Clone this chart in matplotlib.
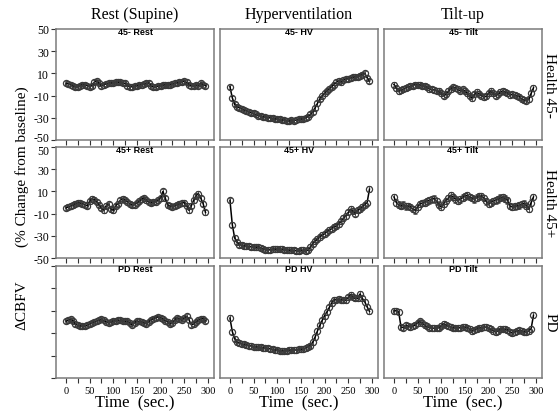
import numpy as np
import matplotlib
matplotlib.use("Agg")
import matplotlib.pyplot as plt
from matplotlib.ticker import MultipleLocator
from matplotlib.transforms import ScaledTranslation

# ---------------- data ----------------
time_sec = np.arange(0, 300, 5)

col_titles = ["Rest (Supine)", "Hyperventilation", "Tilt-up"]
row_labels = ["Health 45-", "Health 45+", "PD"]
panel_titles = [["45- Rest", "45- HV", "45- Tilt"],
                ["45+ Rest", "45+ HV", "45+ Tilt"],
                ["PD Rest", "PD HV", "PD Tilt"]]

h45m_rest = [1, 0.5, 0, -1, -2.5, -2, -1, 0, -0.5, -1, -2, -1, 2, 3.5, 1, -1.5, 0, 0.5, 1, 1.5,
             1.5, 2, 2, 2, 1.5, 1, -1, -2, -2, -1.5, -1, -0.5, 0, 0.5, 1, 1.5, -1, -2.5, -2, -1.5,
             -1, -0.5, 0, -0.5, 0, 0.5, 1, 1.5, 2, 2.5, 3, 2, 0, -1, -1.5, -0.5, -1, 1.5, -0.5, -1]
h45m_hv = [-2, -12, -18, -20, -21, -22, -23, -24, -25, -25.5, -26, -27, -28, -28.5, -29, -29.5, -30, -30, -30.5, -31,
           -31, -31.5, -32, -32, -32.5, -33, -32, -32.5, -32, -31.5, -31, -31, -30, -29, -27, -25, -21, -17, -13, -10,
           -8, -6, -4, -2, 0, 2, 3.5, 2, 4, 5, 5, 6, 6.5, 7, 7, 8, 9, 10, 6, 3]
h45m_tilt = [0, -3, -6, -5, -4, -3, -2, -1.5, -1, 0, -0.5, 0, -1, -1.5, -2.5, -4, -4.5, -5, -5.5, -6,
             -8, -10, -9, -6, -4, -2.5, -3, -4.5, -5.5, -4.5, -6, -8, -10, -12, -9, -7, -8.5, -10, -11.5, -10.5,
             -8, -6, -8, -10, -9, -7, -6, -6.5, -8, -9.5, -9, -9.5, -10, -11, -13, -14, -14.5, -13.5, -8, -3]

h45p_rest = [-5, -4, -3, -2.5, -1, 0, -0.5, -1, -2, -3, 1, 3.5, 2.5, 0.5, -2, -5, -7, -3, -1.5, -6,
             -7, -3, -1, 2, 3.5, 2, 0.5, -1, -2.5, -2, -0.5, 1, 3, 4, 2, 0.5, 0, 0.5, 0.5, 2,
             4, 10, 4, -2.5, -3, -4, -3, -2, -1, -0.5, 0, -3, -7, -3, 2, 6, 8, 4, -1, -9]
h45p_hv = [2, -20, -32, -36, -38, -38.5, -39, -39.5, -39.5, -40, -40, -40.5, -40, -41, -41.5, -42.5, -43, -42.5, -42, -42,
           -42, -42, -42, -42.5, -42.5, -43, -43, -43, -43.5, -43.5, -43, -43, -43.5, -43, -40, -37, -35, -33, -31, -29.5,
           -28, -26.5, -25, -23.5, -22, -21, -19.5, -17, -14, -12, -9, -6, -8, -10, -7, -6, -4, -2, 0, 12]
h45p_tilt = [5, 0, -2, -3, -2, -3.5, -3, -4, -6, -7, -4, -1.5, -0.5, 0, 1, 2, 3, 3.5, 1, -2,
             -4, -1, 1.5, 4, 6.5, 5, 3, 1.5, 3, 4.5, 5.5, 6.5, 5, 4, 3, 4.5, 5.5, 6, 4, 1,
             -1, 0, 1.5, 2, 3, 4.5, 5, 3.5, 2, -3, -4, -3.5, -3, -2.5, -1.5, -1, -3, -6, 0, 5]

pd_rest = [0.5, 1.5, 2.5, 1, -2, -3, -3.5, -3.5, -4, -3, -2, -0.5, 0, 0.5, 1.5, 2.5, 1.5, 0, -1, 0,
           1, 1, 1.5, 1.5, 1, 0.5, 0.5, -1, -2.5, -0.5, 1, 0.5, 0, -0.5, -1.5, 0, 2, 3, 4, 4.5,
           4, 2.5, 1, 0, -1.5, -0.5, 2, 3.5, 2.5, 1.5, 3.5, 5, 2, -2.5, -2, 0, 1.5, 2.5, 3, 0.5]
pd_hv = [3.5, -8.5, -15, -18, -19, -19.5, -20, -20.5, -21, -21.5, -22, -22, -22.5, -22.5, -23, -23, -23.5, -24, -24.5, -25,
         -25, -25.5, -25.5, -25.5, -25.5, -25, -25, -25, -25, -24.5, -24.5, -24, -23.5, -22, -21, -18, -13.5, -8, -3, 1.5,
         5.5, 9, 13, 17, 19.5, 20, 20.5, 20, 19.5, 19.5, 22, 24.5, 22, 21, 21, 25, 21, 18, 13.5, 9.5]
pd_tilt = [10, 10, 9, -4.5, -5, -3, -3.5, -4.5, -4, -2.5, -1, 0.5, -1, -3, -4, -5, -5.5, -5.5, -5.5, -5,
           -3.5, -1.5, -2.5, -4, -4.5, -5, -5, -5.5, -5, -4.5, -4.5, -5, -6.5, -8, -7.5, -6, -5, -5, -4.5, -4.5,
           -5.5, -6.5, -8, -9, -8, -6.5, -6, -6.5, -7, -8.5, -10, -9, -8, -7.5, -8, -8.5, -9, -8, -6, 6]

series = [[h45m_rest, h45m_hv, h45m_tilt],
          [h45p_rest, h45p_hv, h45p_tilt],
          [pd_rest, pd_hv, pd_tilt]]
error_sd = [[1.8, 2.0, 2.5],
            [2.2, 2.5, 3.0],
            [1.8, 2.5, 2.5]]

y_ticks = [50, 30, 10, -10, -30, -50]
x_ticks = [0, 50, 100, 150, 200, 250, 300]

# ---------------- figure ----------------
W, H = 558, 414
fig = plt.figure(figsize=(W / 100, H / 100), dpi=100)
serif = ["Liberation Serif", "DejaVu Serif"]
sans = ["Liberation Sans", "DejaVu Sans"]

col_px = [(56, 214), (220, 378), (384, 542)]
row_px = [(30, 141), (148, 259), (267, 379)]
spine_col = "#7a7a7a"

for r in range(3):
    for c in range(3):
        x0, x1 = col_px[c]
        y0, y1 = row_px[r]
        ax = fig.add_axes([x0 / W, 1 - y1 / H, (x1 - x0) / W, (y1 - y0) / H])
        vals = np.array(series[r][c], dtype=float)
        ax.errorbar(time_sec, vals, yerr=error_sd[r][c], fmt="none",
                    ecolor="#555555", elinewidth=0.7, capsize=1.2, capthick=0.6, zorder=2)
        ax.plot(time_sec, vals, color="black", lw=1.1, zorder=3)
        ax.plot(time_sec, vals, ls="none", marker="o", ms=4.4, mfc="none",
                mec="#3a3a3a", mew=0.9, zorder=4)
        ax.set_xlim(-21, 313)
        ax.set_ylim(-50, 50)
        for s in ax.spines.values():
            s.set_color(spine_col)
            s.set_linewidth(1.1)
        ax.xaxis.set_major_locator(MultipleLocator(50))
        ax.xaxis.set_minor_locator(MultipleLocator(25))
        ax.tick_params(axis="x", which="both", direction="out", length=3.5,
                       width=0.8, color="#333333", pad=2)
        ax.set_xticks(x_ticks)
        if r == 2:
            ax.set_xticklabels([str(v) for v in x_ticks], fontfamily=serif, fontsize=7.5)
            ax.set_xlabel("Time  (sec.)", fontfamily=serif, fontsize=12, labelpad=0)
        else:
            ax.set_xticklabels([])
        if c == 0:
            ax.set_yticks(y_ticks)
            ax.tick_params(axis="y", direction="out", length=3.5, width=0.8,
                           color="#333333", pad=1.5)
            if r < 2:
                ax.set_yticklabels([str(v) for v in y_ticks], fontfamily=serif, fontsize=8.5)
                ticks = ax.yaxis.get_major_ticks()
                if r == 0:
                    lab = ticks[-1].label1
                    lab.set_transform(lab.get_transform() +
                                      ScaledTranslation(0, 2.5 / 72, fig.dpi_scale_trans))
                else:
                    lab = ticks[0].label1
                    lab.set_transform(lab.get_transform() +
                                      ScaledTranslation(0, -1.5 / 72, fig.dpi_scale_trans))
            else:
                ax.set_yticklabels([])
        else:
            ax.set_yticks([])
        ax.text(0.5, 1.015, panel_titles[r][c], transform=ax.transAxes, ha="center",
                va="top", fontfamily=sans, fontweight="bold", fontsize=6.5, zorder=5)
        if r == 0:
            ax.text(0.5, 1.0 + 15 / 111, col_titles[c], transform=ax.transAxes,
                    ha="center", va="center", fontfamily=serif, fontsize=11.5)
        if c == 2:
            fig.text(550 / W, 1 - (y0 + y1) / 2 / H, row_labels[r], rotation=270,
                     ha="center", va="center", fontfamily=serif, fontsize=11)

fig.text(22 / W, 1 - 167 / H, "(% Change from baseline)", rotation=90,
         ha="center", va="center", fontfamily=serif, fontsize=11)
fig.text(22 / W, 1 - 305 / H, "\u0394CBFV", rotation=90,
         ha="center", va="center", fontfamily=serif, fontsize=11)

fig.savefig("out.png", dpi=100)
